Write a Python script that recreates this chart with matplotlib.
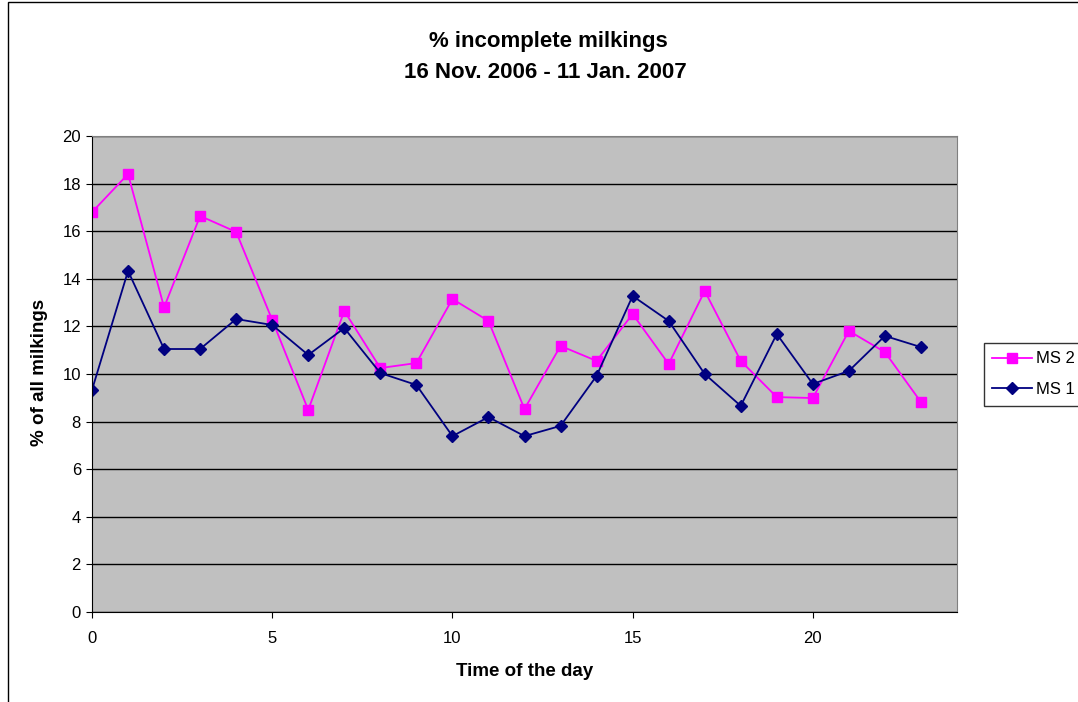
import matplotlib.pyplot as plt
from matplotlib.patches import Rectangle

plt.rcParams['font.family'] = ['Liberation Sans', 'DejaVu Sans']

hours = list(range(24))
ms2 = [16.8, 18.4, 12.8, 16.64, 15.97, 12.27, 8.49, 12.65, 10.25, 10.46, 13.15, 12.23,
       8.53, 11.18, 10.55, 12.52, 10.42, 13.49, 10.55, 9.03, 8.99, 11.81, 10.92, 8.82]
ms1 = [9.33, 14.33, 11.05, 11.05, 12.31, 12.06, 10.8, 11.93, 10.04, 9.54, 7.39, 8.19,
       7.39, 7.82, 9.92, 13.28, 12.23, 10.0, 8.66, 11.68, 9.58, 10.13, 11.6, 11.13]

W, H = 1078, 702
fig = plt.figure(figsize=(W / 100, H / 100), dpi=100)
ax = fig.add_axes([92 / W, 1 - 612 / H, 865 / W, 476 / H])
ax.set_facecolor('#c0c0c0')

# outer chart frame
fig.patches.append(Rectangle((8 / W, -0.05), 1.2, 1.05 - 2 / H, transform=fig.transFigure,
                             fill=False, edgecolor='black', linewidth=1, clip_on=False))

ax.plot(hours, ms2, color='#ff00ff', marker='s', markersize=6.5, linewidth=1.3, label='MS 2')
ax.plot(hours, ms1, color='#000080', marker='D', markersize=6, linewidth=1.3, label='MS 1')

ax.set_xlim(0, 24)
ax.set_ylim(0, 20)
ax.set_xticks([0, 5, 10, 15, 20])
ax.set_yticks(range(0, 21, 2))
ax.yaxis.grid(True, color='black', linewidth=1)
ax.set_axisbelow(True)
ax.tick_params(labelsize=12, length=4.5, color='black')
ax.tick_params(axis='x', pad=9)
for s in ['top', 'right']:
    ax.spines[s].set_color('#808080')
for s in ['left', 'bottom']:
    ax.spines[s].set_color('black')

fig.text(525 / W, 1 - 672 / H, 'Time of the day', ha='center', va='center',
         fontsize=13.5, fontweight='bold')
fig.text(40 / W, 1 - 372 / H, '% of all milkings', ha='center', va='center',
         rotation=90, fontsize=13.5, fontweight='bold')
fig.text(548 / W, 1 - 42 / H, '% incomplete milkings', ha='center', va='center',
         fontsize=16, fontweight='bold')
fig.text(545 / W, 1 - 72 / H, '16 Nov. 2006 - 11 Jan. 2007', ha='center', va='center',
         fontsize=16, fontweight='bold')

leg = ax.legend(loc='upper left', bbox_to_anchor=(984 / W, 1 - 343 / H),
                bbox_transform=fig.transFigure, frameon=True, fancybox=False,
                fontsize=12, borderpad=0.5, handlelength=2.4, handletextpad=0.2,
                labelspacing=0.95, borderaxespad=0)
leg.get_frame().set_edgecolor('black')
leg.get_frame().set_linewidth(1)

fig.savefig('out.png', dpi=100)
